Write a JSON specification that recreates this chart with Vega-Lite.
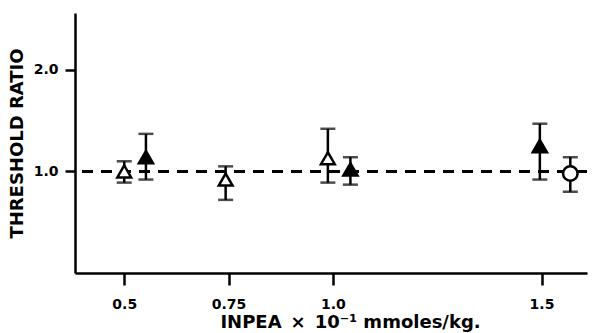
{
  "$schema": "https://vega.github.io/schema/vega-lite/v6.json",
  "width": 512,
  "height": 260,
  "autosize": {"type": "none"},
  "padding": {"left": 75, "top": 13, "right": 6, "bottom": 60},
  "background": "white",
  "config": {
    "view": {"stroke": null},
    "font": "DejaVu Sans",
    "axis": {
      "grid": false,
      "domainColor": "black",
      "domainWidth": 2.5,
      "tickColor": "black",
      "tickWidth": 2.5,
      "labelColor": "black",
      "titleColor": "black",
      "labelFont": "DejaVu Sans",
      "titleFont": "DejaVu Sans",
      "labelFontWeight": "bold",
      "titleFontWeight": "bold",
      "labelFontSize": 14,
      "titleFontSize": 17
    }
  },
  "data": {
    "values": [
      {"group": "open", "x": 0.5, "y": 1.0, "lo": 0.89, "hi": 1.1},
      {"group": "filled", "x": 0.552, "y": 1.14, "lo": 0.92, "hi": 1.37},
      {"group": "open", "x": 0.743, "y": 0.92, "lo": 0.72, "hi": 1.05},
      {"group": "open", "x": 0.988, "y": 1.13, "lo": 0.89, "hi": 1.42},
      {"group": "filled", "x": 1.042, "y": 1.02, "lo": 0.87, "hi": 1.14},
      {"group": "filled", "x": 1.496, "y": 1.25, "lo": 0.92, "hi": 1.47},
      {"group": "circle", "x": 1.569, "y": 0.98, "lo": 0.8, "hi": 1.14}
    ]
  },
  "encoding": {
    "x": {
      "field": "x",
      "type": "quantitative",
      "scale": {"domain": [0.382, 1.609], "nice": false, "zero": false},
      "axis": {
        "values": [0.5, 0.75, 1.0, 1.5],
        "labelExpr": "datum.value == 0.75 ? '0.75' : format(datum.value, '.1f')",
        "tickSize": 12,
        "labelPadding": 12,
        "labelFontSize": 14,
        "labelFont": "DejaVu Sans",
        "labelFontWeight": "bold",
        "title": "INPEA\u2002×\u200210⁻¹ mmoles/kg.",
        "titlePadding": 2,
        "titleX": 275,
        "titleAnchor": "middle",
        "titleColor": "black",
        "titleFontSize": 18
      }
    }
  },
  "layer": [
    {
      "mark": {"type": "rule", "color": "black", "strokeWidth": 2.5, "strokeDash": [11, 8]},
      "encoding": {"y": {"datum": 1, "type": "quantitative"}, "x": null}
    },
    {
      "mark": {"type": "rule", "color": "black", "strokeWidth": 2.5},
      "encoding": {
        "y": {
          "field": "lo",
          "type": "quantitative",
          "scale": {"domain": [0, 2.56], "nice": false},
          "axis": {
            "values": [1, 2],
            "format": ".1f",
            "tickSize": 10,
            "labelPadding": 7,
            "labelFontSize": 14,
            "labelFont": "DejaVu Sans",
            "labelFontWeight": "bold",
            "title": "THRESHOLD RATIO",
            "titlePadding": 7,
            "titleColor": "black",
            "titleFontSize": 18
          }
        },
        "y2": {"field": "hi"}
      }
    },
    {
      "mark": {"type": "tick", "orient": "horizontal", "color": "black", "size": 15, "thickness": 2.5},
      "encoding": {"y": {"field": "lo", "type": "quantitative"}}
    },
    {
      "mark": {"type": "tick", "orient": "horizontal", "color": "black", "size": 15, "thickness": 2.5},
      "encoding": {"y": {"field": "hi", "type": "quantitative"}}
    },
    {
      "mark": {"type": "point", "filled": true, "strokeWidth": 2.5, "stroke": "black", "opacity": 1},
      "encoding": {
        "y": {"field": "y", "type": "quantitative"},
        "shape": {
          "field": "group",
          "type": "nominal",
          "scale": {"domain": ["open", "filled", "circle"], "range": ["triangle-up", "triangle-up", "circle"]},
          "legend": null
        },
        "fill": {
          "field": "group",
          "type": "nominal",
          "scale": {"domain": ["open", "filled", "circle"], "range": ["white", "black", "white"]},
          "legend": null
        },
        "size": {
          "field": "group",
          "type": "nominal",
          "scale": {"domain": ["open", "filled", "circle"], "range": [190, 210, 120]},
          "legend": null
        }
      }
    }
  ]
}
